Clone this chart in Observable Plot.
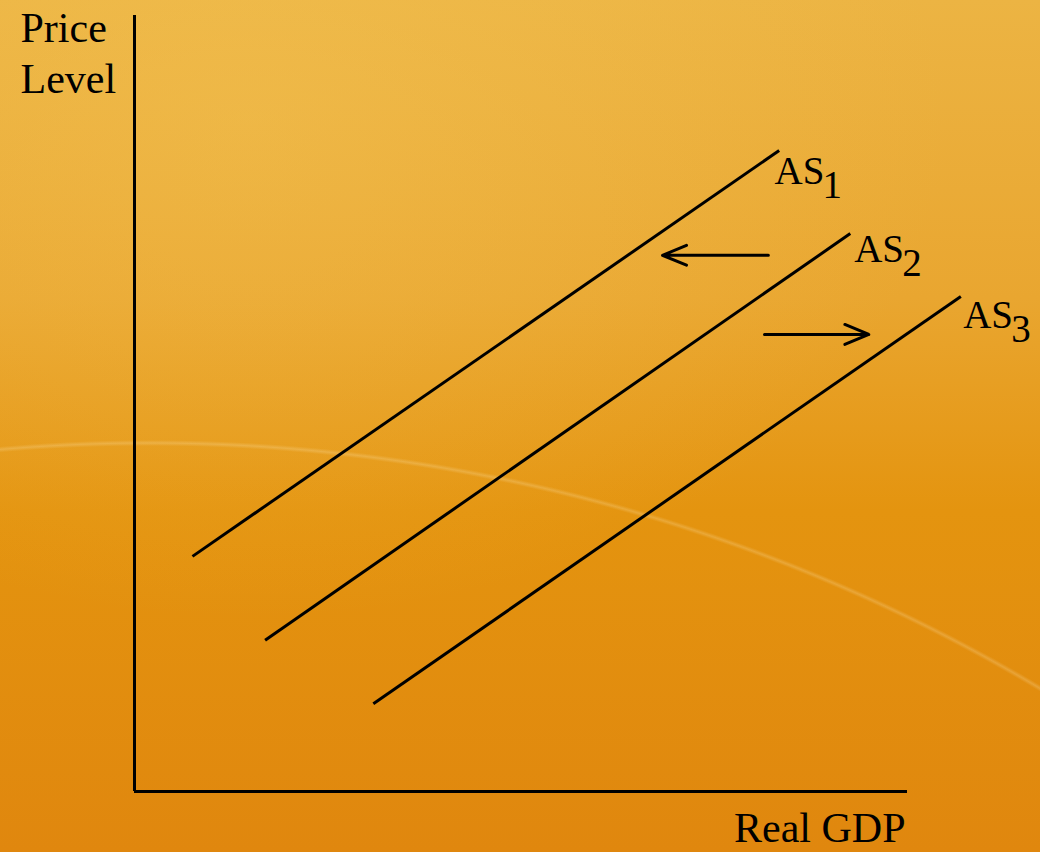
<!DOCTYPE html>
<html>
<head>
<meta charset="utf-8">
<script src="https://cdn.jsdelivr.net/npm/d3@7"></script>
<script src="https://cdn.jsdelivr.net/npm/@observablehq/plot@0.6"></script>
<style>
  html, body { margin: 0; padding: 0; width: 1040px; height: 852px; overflow: hidden; }
  body {
    background:
      radial-gradient(circle 1738px at 150px 2180px, rgba(255,255,255,0) 1734px, rgba(255,240,200,0.22) 1737px, rgba(255,255,255,0) 1740px),
      radial-gradient(ellipse 700px 500px at 250px 120px, rgba(245,200,90,0.35), rgba(245,200,90,0)),
      linear-gradient(180deg, #ecb443 0%, #e9a630 35%, #e4940f 60%, #e0870e 100%);
  }
  #chart svg { display: block; }
</style>
</head>
<body>
<div id="chart"></div>
<script>
// Aggregate supply curves (abstract units: 0–100 on each axis)
const series = ["AS1", "AS2", "AS3"];
const subscripts = ["1", "2", "3"];
const startX = [7.5, 16.9, 30.9];
const startY = [30.3, 19.5, 11.3];
const endX = [83.4, 92.6, 106.9];
const endY = [82.6, 71.9, 63.8];

// Label anchors for each curve
const labelX = [82.8, 93.1, 107.2];
const labelY = [79.9, 69.8, 61.3];

// Shift arrows
const arrowFromX = [82.0, 81.5];
const arrowToX = [68.3, 95.0];
const arrowY = [69.1, 58.9];

const yLabel = "Price\nLevel";
const xLabel = "Real GDP";

const curves = series.map((s, i) => ({
  s, x1: startX[i], y1: startY[i], x2: endX[i], y2: endY[i],
  lx: labelX[i], ly: labelY[i], sub: subscripts[i]
}));
const arrows = arrowFromX.map((x, i) => ({x1: x, x2: arrowToX[i], y: arrowY[i]}));

const font = "'Liberation Serif', 'DejaVu Serif', serif";

const chart = Plot.plot({
  width: 1040,
  height: 852,
  margin: 0,
  style: {background: "transparent", fontFamily: font},
  x: {domain: [0, 100], range: [134, 907], axis: null},
  y: {domain: [0, 100], range: [791, 15], axis: null},
  marks: [
    Plot.ruleX([0], {y1: 0, y2: 100, stroke: "black", strokeWidth: 3}),
    Plot.ruleY([0], {x1: 0, x2: 100, stroke: "black", strokeWidth: 3}),
    Plot.link(curves, {x1: "x1", y1: "y1", x2: "x2", y2: "y2", stroke: "black", strokeWidth: 3}),
    Plot.arrow(arrows, {x1: "x1", y1: "y", x2: "x2", y2: "y", stroke: "black", strokeWidth: 3, headLength: 13, headAngle: 45}),
    Plot.text(curves, {x: "lx", y: "ly", text: () => "AS", textAnchor: "start", fontSize: 39, fill: "black", fontFamily: font}),
    Plot.text(curves, {x: "lx", y: "ly", text: "sub", textAnchor: "start", dx: 48, dy: 14, fontSize: 39, fill: "black", fontFamily: font}),
    Plot.text([yLabel], {frameAnchor: "top-left", dx: 20, dy: 6, lineAnchor: "top", lineHeight: 1.2, textAnchor: "start", fontSize: 42, fill: "black", fontFamily: font}),
    Plot.text([xLabel], {frameAnchor: "bottom-right", dx: -135, dy: -11, lineAnchor: "bottom", textAnchor: "end", fontSize: 42, fill: "black", fontFamily: font})
  ]
});
document.getElementById("chart").append(chart);
</script>
</body>
</html>
